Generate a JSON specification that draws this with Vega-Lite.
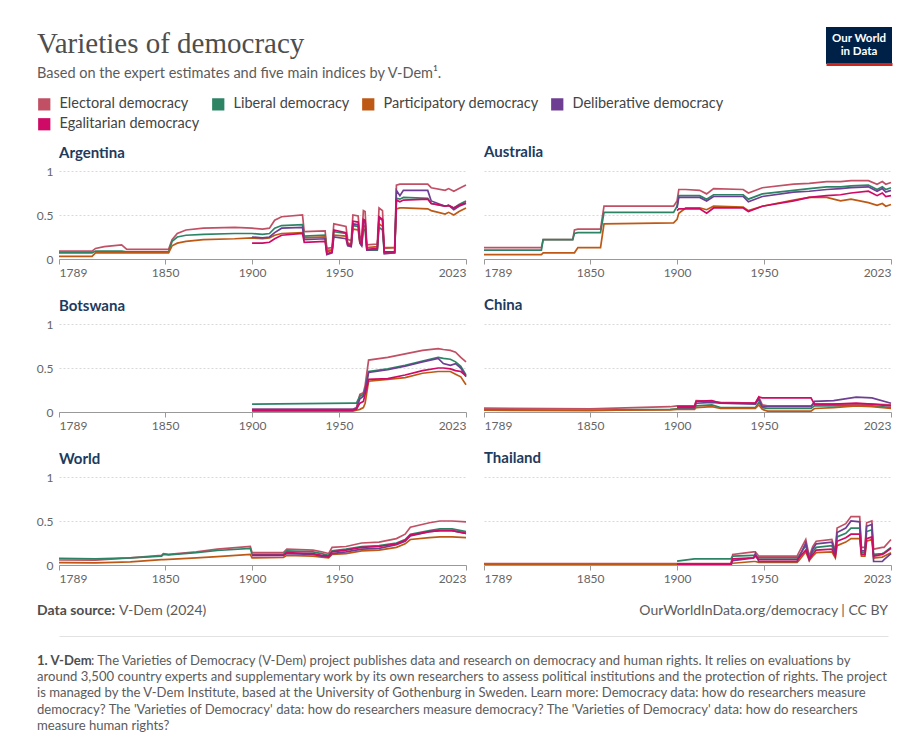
{
  "$schema": "https://vega.github.io/schema/vega-lite/v6.json",
  "padding": {"left": 36, "top": 27, "right": 10, "bottom": 0},
  "background": "white",
  "config": {
    "view": {"stroke": null},
    "font": "Lato",
    "title": {"anchor": "start", "frame": "group", "font": "Lato", "fontSize": 15, "fontWeight": 700, "color": "#1d3b5e", "offset": 4},
    "axis": {"labelFont": "Lato", "labelFontSize": 12, "labelColor": "#666666", "title": null},
    "legend": {"orient": "none", "legendX": -22, "legendY": -74, "direction": "horizontal", "columns": 4, "title": null, "symbolType": "square", "symbolSize": 150, "symbolStrokeWidth": 0, "labelFont": "Lato", "labelFontSize": 14.5, "labelColor": "#444444", "rowPadding": 5, "columnPadding": 11, "labelOffset": 8, "padding": 0},
    "text": {"font": "Lato"}
  },
  "resolve": {"legend": {"color": "independent"}},
  "spacing": 2,
  "vconcat": [
    {
      "spacing": 20,
      "hconcat": [
        {
          "width": 747, "height": 68,
          "data": {"values": []},
          "mark": "point",
          "title": {
            "text": "Varieties of democracy",
            "subtitle": "Based on the expert estimates and five main indices by V-Dem¹.",
            "font": "Liberation Serif", "fontSize": 29, "fontWeight": "normal", "color": "#4e4e4e",
            "subtitleFont": "Lato", "subtitleFontSize": 14.5, "subtitleColor": "#5b5b5b", "subtitlePadding": 8,
            "offset": -53, "dx": -22
          }
        },
        {
          "width": 66, "height": 37,
          "view": {"fill": "#002147", "stroke": null},
          "data": {"values": [{"t": "Our World"}, {"t": "in Data"}]},
          "mark": {"type": "text", "color": "white", "fontSize": 11.5, "fontWeight": 700, "baseline": "middle"},
          "encoding": {
            "x": {"datum": "logo", "type": "nominal", "scale": {"type": "point"}, "axis": {"labels": false, "ticks": false, "domainColor": "#ce261e", "domainWidth": 3, "grid": false, "title": null}},
            "y": {"field": "t", "type": "nominal", "sort": ["Our World", "in Data"], "scale": {"type": "point", "padding": 1}, "axis": null},
            "text": {"field": "t"}
          }
        }
      ]
    },
    {
      "columns": 2,
      "spacing": {"row": 20, "column": 10},
      "data": {"values": [
        {"c":"AR","yr":1789,"e":0.09,"l":0.07,"p":0.03},
        {"c":"AR","yr":1808,"e":0.09,"l":0.07,"p":0.03},
        {"c":"AR","yr":1810,"e":0.12,"l":0.09,"p":0.07},
        {"c":"AR","yr":1815,"e":0.14,"l":0.09,"p":0.07},
        {"c":"AR","yr":1825,"e":0.16,"l":0.09,"p":0.07},
        {"c":"AR","yr":1828,"e":0.11,"l":0.08,"p":0.07},
        {"c":"AR","yr":1852,"e":0.11,"l":0.08,"p":0.07},
        {"c":"AR","yr":1854,"e":0.22,"l":0.2,"p":0.15},
        {"c":"AR","yr":1857,"e":0.29,"l":0.25,"p":0.18},
        {"c":"AR","yr":1862,"e":0.33,"l":0.27,"p":0.2},
        {"c":"AR","yr":1872,"e":0.35,"l":0.28,"p":0.22},
        {"c":"AR","yr":1890,"e":0.36,"l":0.29,"p":0.23},
        {"c":"AR","yr":1900,"e":0.35,"l":0.29,"p":0.24,"d":0.25,"g":0.18},
        {"c":"AR","yr":1906,"e":0.34,"l":0.28,"p":0.23,"d":0.24,"g":0.18},
        {"c":"AR","yr":1910,"e":0.35,"l":0.29,"p":0.24,"d":0.25,"g":0.19},
        {"c":"AR","yr":1913,"e":0.44,"l":0.35,"p":0.27,"d":0.3,"g":0.23},
        {"c":"AR","yr":1917,"e":0.48,"l":0.38,"p":0.29,"d":0.35,"g":0.27},
        {"c":"AR","yr":1929,"e":0.5,"l":0.39,"p":0.3,"d":0.36,"g":0.29},
        {"c":"AR","yr":1930,"e":0.31,"l":0.26,"p":0.24,"d":0.22,"g":0.19},
        {"c":"AR","yr":1942,"e":0.32,"l":0.27,"p":0.25,"d":0.23,"g":0.2},
        {"c":"AR","yr":1943,"e":0.12,"l":0.08,"p":0.1,"d":0.05,"g":0.06},
        {"c":"AR","yr":1946,"e":0.13,"l":0.1,"p":0.1,"d":0.07,"g":0.08},
        {"c":"AR","yr":1947,"e":0.4,"l":0.31,"p":0.27,"d":0.25,"g":0.33},
        {"c":"AR","yr":1954,"e":0.37,"l":0.29,"p":0.26,"d":0.23,"g":0.3},
        {"c":"AR","yr":1955,"e":0.22,"l":0.17,"p":0.18,"d":0.15,"g":0.16},
        {"c":"AR","yr":1957,"e":0.21,"l":0.16,"p":0.17,"d":0.14,"g":0.15},
        {"c":"AR","yr":1958,"e":0.5,"l":0.38,"p":0.34,"d":0.4,"g":0.43},
        {"c":"AR","yr":1961,"e":0.49,"l":0.37,"p":0.33,"d":0.39,"g":0.42},
        {"c":"AR","yr":1962,"e":0.26,"l":0.2,"p":0.18,"d":0.18,"g":0.2},
        {"c":"AR","yr":1963,"e":0.22,"l":0.15,"p":0.16,"d":0.15,"g":0.17},
        {"c":"AR","yr":1964,"e":0.55,"l":0.33,"p":0.38,"d":0.43,"g":0.45},
        {"c":"AR","yr":1965,"e":0.54,"l":0.33,"p":0.37,"d":0.42,"g":0.44},
        {"c":"AR","yr":1966,"e":0.16,"l":0.1,"p":0.13,"d":0.1,"g":0.11},
        {"c":"AR","yr":1972,"e":0.17,"l":0.1,"p":0.14,"d":0.11,"g":0.12},
        {"c":"AR","yr":1973,"e":0.58,"l":0.36,"p":0.4,"d":0.47,"g":0.48},
        {"c":"AR","yr":1975,"e":0.55,"l":0.33,"p":0.37,"d":0.44,"g":0.45},
        {"c":"AR","yr":1976,"e":0.12,"l":0.07,"p":0.13,"d":0.06,"g":0.08},
        {"c":"AR","yr":1982,"e":0.13,"l":0.07,"p":0.13,"d":0.07,"g":0.08},
        {"c":"AR","yr":1983,"e":0.84,"l":0.69,"p":0.57,"d":0.78,"g":0.67},
        {"c":"AR","yr":1985,"e":0.85,"l":0.68,"p":0.58,"d":0.72,"g":0.65},
        {"c":"AR","yr":1987,"e":0.85,"l":0.7,"p":0.58,"d":0.78,"g":0.67},
        {"c":"AR","yr":2001,"e":0.85,"l":0.69,"p":0.57,"d":0.78,"g":0.68},
        {"c":"AR","yr":2003,"e":0.81,"l":0.63,"p":0.55,"d":0.66,"g":0.63},
        {"c":"AR","yr":2011,"e":0.78,"l":0.6,"p":0.51,"d":0.6,"g":0.6},
        {"c":"AR","yr":2013,"e":0.8,"l":0.61,"p":0.53,"d":0.61,"g":0.61},
        {"c":"AR","yr":2016,"e":0.77,"l":0.58,"p":0.5,"d":0.56,"g":0.58},
        {"c":"AR","yr":2019,"e":0.8,"l":0.62,"p":0.54,"d":0.6,"g":0.61},
        {"c":"AR","yr":2023,"e":0.84,"l":0.66,"p":0.58,"d":0.63,"g":0.64},

        {"c":"AU","yr":1789,"e":0.13,"l":0.1,"p":0.05},
        {"c":"AU","yr":1822,"e":0.13,"l":0.1,"p":0.05},
        {"c":"AU","yr":1823,"e":0.22,"l":0.22,"p":0.07},
        {"c":"AU","yr":1840,"e":0.22,"l":0.22,"p":0.07},
        {"c":"AU","yr":1841,"e":0.33,"l":0.29,"p":0.07},
        {"c":"AU","yr":1843,"e":0.34,"l":0.3,"p":0.13},
        {"c":"AU","yr":1856,"e":0.34,"l":0.3,"p":0.13},
        {"c":"AU","yr":1858,"e":0.6,"l":0.53,"p":0.4},
        {"c":"AU","yr":1898,"e":0.6,"l":0.53,"p":0.41},
        {"c":"AU","yr":1900,"e":0.66,"l":0.6,"p":0.45,"d":0.58,"g":0.55},
        {"c":"AU","yr":1901,"e":0.79,"l":0.72,"p":0.52,"d":0.7,"g":0.57},
        {"c":"AU","yr":1905,"e":0.79,"l":0.72,"p":0.58,"d":0.7,"g":0.57},
        {"c":"AU","yr":1913,"e":0.78,"l":0.72,"p":0.58,"d":0.7,"g":0.57},
        {"c":"AU","yr":1917,"e":0.74,"l":0.68,"p":0.56,"d":0.66,"g":0.52},
        {"c":"AU","yr":1921,"e":0.8,"l":0.73,"p":0.6,"d":0.71,"g":0.58},
        {"c":"AU","yr":1938,"e":0.79,"l":0.73,"p":0.59,"d":0.71,"g":0.58},
        {"c":"AU","yr":1941,"e":0.75,"l":0.68,"p":0.55,"d":0.65,"g":0.54},
        {"c":"AU","yr":1949,"e":0.81,"l":0.74,"p":0.6,"d":0.71,"g":0.6},
        {"c":"AU","yr":1967,"e":0.85,"l":0.78,"p":0.67,"d":0.76,"g":0.66},
        {"c":"AU","yr":1976,"e":0.86,"l":0.8,"p":0.7,"d":0.77,"g":0.7},
        {"c":"AU","yr":1986,"e":0.88,"l":0.82,"p":0.7,"d":0.79,"g":0.72},
        {"c":"AU","yr":1994,"e":0.88,"l":0.82,"p":0.66,"d":0.8,"g":0.73},
        {"c":"AU","yr":2000,"e":0.89,"l":0.83,"p":0.68,"d":0.81,"g":0.75},
        {"c":"AU","yr":2010,"e":0.89,"l":0.84,"p":0.64,"d":0.82,"g":0.77},
        {"c":"AU","yr":2015,"e":0.85,"l":0.79,"p":0.61,"d":0.77,"g":0.72},
        {"c":"AU","yr":2018,"e":0.88,"l":0.82,"p":0.63,"d":0.8,"g":0.75},
        {"c":"AU","yr":2020,"e":0.85,"l":0.79,"p":0.6,"d":0.76,"g":0.71},
        {"c":"AU","yr":2023,"e":0.87,"l":0.81,"p":0.62,"d":0.78,"g":0.72},

        {"c":"BW","yr":1900,"e":0.03,"l":0.09,"p":0.01,"d":0.03,"g":0.02},
        {"c":"BW","yr":1958,"e":0.03,"l":0.1,"p":0.01,"d":0.03,"g":0.02},
        {"c":"BW","yr":1960,"e":0.05,"l":0.1,"p":0.02,"d":0.04,"g":0.03},
        {"c":"BW","yr":1962,"e":0.2,"l":0.18,"p":0.03,"d":0.15,"g":0.1},
        {"c":"BW","yr":1964,"e":0.22,"l":0.2,"p":0.05,"d":0.18,"g":0.12},
        {"c":"BW","yr":1965,"e":0.3,"l":0.25,"p":0.1,"d":0.25,"g":0.2},
        {"c":"BW","yr":1967,"e":0.59,"l":0.46,"p":0.35,"d":0.45,"g":0.37},
        {"c":"BW","yr":1978,"e":0.62,"l":0.49,"p":0.37,"d":0.48,"g":0.38},
        {"c":"BW","yr":1988,"e":0.66,"l":0.53,"p":0.39,"d":0.52,"g":0.42},
        {"c":"BW","yr":1998,"e":0.7,"l":0.58,"p":0.44,"d":0.57,"g":0.47},
        {"c":"BW","yr":2007,"e":0.72,"l":0.62,"p":0.46,"d":0.61,"g":0.5},
        {"c":"BW","yr":2010,"e":0.71,"l":0.61,"p":0.46,"d":0.55,"g":0.5},
        {"c":"BW","yr":2014,"e":0.7,"l":0.6,"p":0.46,"d":0.53,"g":0.49},
        {"c":"BW","yr":2017,"e":0.68,"l":0.57,"p":0.43,"d":0.55,"g":0.47},
        {"c":"BW","yr":2020,"e":0.62,"l":0.52,"p":0.4,"d":0.5,"g":0.46},
        {"c":"BW","yr":2023,"e":0.57,"l":0.42,"p":0.31,"d":0.4,"g":0.41},

        {"c":"CN","yr":1789,"e":0.045,"l":0.025,"p":0.02},
        {"c":"CN","yr":1850,"e":0.035,"l":0.02,"p":0.015},
        {"c":"CN","yr":1865,"e":0.045,"l":0.025,"p":0.02},
        {"c":"CN","yr":1896,"e":0.06,"l":0.03,"p":0.025},
        {"c":"CN","yr":1900,"e":0.07,"l":0.035,"p":0.03,"d":0.05,"g":0.06},
        {"c":"CN","yr":1910,"e":0.07,"l":0.04,"p":0.03,"d":0.05,"g":0.06},
        {"c":"CN","yr":1911,"e":0.13,"l":0.07,"p":0.05,"d":0.1,"g":0.12},
        {"c":"CN","yr":1920,"e":0.12,"l":0.08,"p":0.06,"d":0.11,"g":0.13},
        {"c":"CN","yr":1925,"e":0.11,"l":0.05,"p":0.04,"d":0.1,"g":0.1},
        {"c":"CN","yr":1945,"e":0.1,"l":0.05,"p":0.04,"d":0.09,"g":0.1},
        {"c":"CN","yr":1947,"e":0.17,"l":0.11,"p":0.08,"d":0.15,"g":0.17},
        {"c":"CN","yr":1949,"e":0.08,"l":0.05,"p":0.03,"d":0.06,"g":0.16},
        {"c":"CN","yr":1952,"e":0.07,"l":0.04,"p":0.01,"d":0.06,"g":0.16},
        {"c":"CN","yr":1977,"e":0.07,"l":0.04,"p":0.01,"d":0.06,"g":0.16},
        {"c":"CN","yr":1979,"e":0.09,"l":0.07,"p":0.04,"d":0.12,"g":0.09},
        {"c":"CN","yr":1990,"e":0.09,"l":0.07,"p":0.05,"d":0.13,"g":0.09},
        {"c":"CN","yr":2003,"e":0.09,"l":0.07,"p":0.07,"d":0.17,"g":0.1},
        {"c":"CN","yr":2012,"e":0.09,"l":0.07,"p":0.06,"d":0.16,"g":0.09},
        {"c":"CN","yr":2023,"e":0.08,"l":0.05,"p":0.04,"d":0.1,"g":0.07},

        {"c":"WD","yr":1789,"e":0.057,"l":0.075,"p":0.027},
        {"c":"WD","yr":1810,"e":0.055,"l":0.07,"p":0.025},
        {"c":"WD","yr":1830,"e":0.08,"l":0.08,"p":0.035},
        {"c":"WD","yr":1848,"e":0.11,"l":0.1,"p":0.06},
        {"c":"WD","yr":1849,"e":0.13,"l":0.12,"p":0.06},
        {"c":"WD","yr":1852,"e":0.12,"l":0.115,"p":0.065},
        {"c":"WD","yr":1868,"e":0.15,"l":0.14,"p":0.08},
        {"c":"WD","yr":1880,"e":0.18,"l":0.165,"p":0.095},
        {"c":"WD","yr":1899,"e":0.21,"l":0.19,"p":0.12},
        {"c":"WD","yr":1900,"e":0.14,"l":0.12,"p":0.08,"d":0.11,"g":0.11},
        {"c":"WD","yr":1918,"e":0.14,"l":0.12,"p":0.085,"d":0.11,"g":0.11},
        {"c":"WD","yr":1920,"e":0.18,"l":0.16,"p":0.11,"d":0.13,"g":0.14},
        {"c":"WD","yr":1935,"e":0.17,"l":0.15,"p":0.1,"d":0.12,"g":0.13},
        {"c":"WD","yr":1940,"e":0.15,"l":0.13,"p":0.09,"d":0.1,"g":0.11},
        {"c":"WD","yr":1944,"e":0.13,"l":0.11,"p":0.08,"d":0.09,"g":0.1},
        {"c":"WD","yr":1946,"e":0.2,"l":0.16,"p":0.12,"d":0.13,"g":0.15},
        {"c":"WD","yr":1954,"e":0.21,"l":0.18,"p":0.13,"d":0.15,"g":0.17},
        {"c":"WD","yr":1963,"e":0.25,"l":0.21,"p":0.16,"d":0.18,"g":0.2},
        {"c":"WD","yr":1973,"e":0.26,"l":0.22,"p":0.17,"d":0.19,"g":0.21},
        {"c":"WD","yr":1983,"e":0.3,"l":0.25,"p":0.2,"d":0.23,"g":0.24},
        {"c":"WD","yr":1988,"e":0.35,"l":0.29,"p":0.24,"d":0.27,"g":0.28},
        {"c":"WD","yr":1991,"e":0.43,"l":0.35,"p":0.29,"d":0.33,"g":0.34},
        {"c":"WD","yr":2002,"e":0.48,"l":0.39,"p":0.31,"d":0.38,"g":0.38},
        {"c":"WD","yr":2008,"e":0.5,"l":0.41,"p":0.32,"d":0.39,"g":0.39},
        {"c":"WD","yr":2015,"e":0.5,"l":0.41,"p":0.32,"d":0.39,"g":0.39},
        {"c":"WD","yr":2023,"e":0.49,"l":0.38,"p":0.31,"d":0.36,"g":0.36},

        {"c":"TH","yr":1789,"e":0.015,"p":0.01},
        {"c":"TH","yr":1899,"e":0.015,"p":0.01},
        {"c":"TH","yr":1900,"e":0.015,"l":0.045,"p":0.01,"d":0.01,"g":0.01},
        {"c":"TH","yr":1910,"e":0.015,"l":0.07,"p":0.01,"d":0.01,"g":0.01},
        {"c":"TH","yr":1931,"e":0.015,"l":0.07,"p":0.01,"d":0.01,"g":0.01},
        {"c":"TH","yr":1932,"e":0.12,"l":0.1,"p":0.02,"d":0.05,"g":0.07},
        {"c":"TH","yr":1944,"e":0.15,"l":0.11,"p":0.04,"d":0.08,"g":0.08},
        {"c":"TH","yr":1945,"e":0.15,"l":0.11,"p":0.04,"d":0.13,"g":0.1},
        {"c":"TH","yr":1947,"e":0.1,"l":0.08,"p":0.03,"d":0.04,"g":0.06},
        {"c":"TH","yr":1969,"e":0.1,"l":0.08,"p":0.03,"d":0.04,"g":0.06},
        {"c":"TH","yr":1970,"e":0.14,"l":0.1,"p":0.05,"d":0.08,"g":0.08},
        {"c":"TH","yr":1974,"e":0.29,"l":0.22,"p":0.15,"d":0.25,"g":0.17},
        {"c":"TH","yr":1976,"e":0.1,"l":0.08,"p":0.05,"d":0.06,"g":0.07},
        {"c":"TH","yr":1978,"e":0.21,"l":0.15,"p":0.1,"d":0.18,"g":0.12},
        {"c":"TH","yr":1980,"e":0.27,"l":0.2,"p":0.14,"d":0.24,"g":0.17},
        {"c":"TH","yr":1989,"e":0.29,"l":0.22,"p":0.15,"d":0.26,"g":0.18},
        {"c":"TH","yr":1991,"e":0.16,"l":0.12,"p":0.08,"d":0.14,"g":0.1},
        {"c":"TH","yr":1992,"e":0.42,"l":0.32,"p":0.22,"d":0.37,"g":0.27},
        {"c":"TH","yr":1997,"e":0.47,"l":0.36,"p":0.26,"d":0.42,"g":0.31},
        {"c":"TH","yr":2000,"e":0.55,"l":0.42,"p":0.3,"d":0.5,"g":0.35},
        {"c":"TH","yr":2005,"e":0.55,"l":0.42,"p":0.3,"d":0.49,"g":0.35},
        {"c":"TH","yr":2006,"e":0.2,"l":0.14,"p":0.1,"d":0.16,"g":0.12},
        {"c":"TH","yr":2008,"e":0.2,"l":0.14,"p":0.1,"d":0.16,"g":0.12},
        {"c":"TH","yr":2009,"e":0.48,"l":0.38,"p":0.27,"d":0.44,"g":0.3},
        {"c":"TH","yr":2012,"e":0.5,"l":0.4,"p":0.29,"d":0.46,"g":0.32},
        {"c":"TH","yr":2013,"e":0.18,"l":0.12,"p":0.08,"d":0.04,"g":0.1},
        {"c":"TH","yr":2018,"e":0.2,"l":0.13,"p":0.09,"d":0.04,"g":0.12},
        {"c":"TH","yr":2019,"e":0.2,"l":0.14,"p":0.1,"d":0.06,"g":0.13},
        {"c":"TH","yr":2023,"e":0.29,"l":0.2,"p":0.14,"d":0.13,"g":0.19}
      ]},
      "transform": [
        {"fold": ["e", "l", "p", "d", "g"], "as": ["k", "v"]},
        {"filter": "isValid(datum.v)"}
      ],
      "concat": [
        {
          "title": "Argentina", "width": 407, "height": 88,
          "transform": [{"filter": "datum.c === 'AR'"}],
          "mark": {"type": "line", "strokeWidth": 1.7},
          "encoding": {
            "x": {"field": "yr", "type": "quantitative", "scale": {"domain": [1789, 2023], "nice": false, "zero": false}, "axis": {"values": [1789, 1850, 1900, 1950, 2023], "format": "d", "labelFlush": true, "grid": false, "tickSize": 5, "tickColor": "#999999", "domainColor": "#999999", "labelPadding": 3}},
            "y": {"field": "v", "type": "quantitative", "scale": {"domain": [0, 1], "nice": false}, "axis": {"values": [0, 0.5, 1], "format": "~g", "domain": false, "ticks": false, "labelPadding": 6, "gridDash": [2, 2], "gridColor": "#d9d9d9"}},
            "color": {"field": "k", "type": "nominal", "scale": {"domain": ["e", "l", "p", "d", "g"], "range": ["#C15065", "#2C8465", "#BE5915", "#6D3E91", "#CF0A66"]}, "legend": {"labelExpr": "{'e':'Electoral democracy','l':'Liberal democracy','p':'Participatory democracy','d':'Deliberative democracy','g':'Egalitarian democracy'}[datum.label]", "encode": {"symbols": {"update": {"fill": {"scale": "color", "field": "value"}, "fillOpacity": {"value": 1}}}}}}
          }
        },
        {
          "title": {"text": "Australia", "offset": 11}, "width": 407, "height": 88,
          "transform": [{"filter": "datum.c === 'AU'"}],
          "mark": {"type": "line", "strokeWidth": 1.7},
          "encoding": {
            "x": {"field": "yr", "type": "quantitative", "scale": {"domain": [1789, 2023], "nice": false, "zero": false}, "axis": {"values": [1789, 1850, 1900, 1950, 2023], "format": "d", "labelFlush": true, "grid": false, "tickSize": 5, "tickColor": "#999999", "domainColor": "#999999", "labelPadding": 3}},
            "y": {"field": "v", "type": "quantitative", "scale": {"domain": [0, 1], "nice": false}, "axis": {"values": [0, 0.5, 1], "labels": false, "domain": false, "ticks": false, "gridDash": [2, 2], "gridColor": "#d9d9d9"}},
            "color": {"field": "k", "type": "nominal", "scale": {"domain": ["e", "l", "p", "d", "g"], "range": ["#C15065", "#2C8465", "#BE5915", "#6D3E91", "#CF0A66"]}, "legend": {"labelExpr": "{'e':'Electoral democracy','l':'Liberal democracy','p':'Participatory democracy','d':'Deliberative democracy','g':'Egalitarian democracy'}[datum.label]", "encode": {"symbols": {"update": {"fill": {"scale": "color", "field": "value"}, "fillOpacity": {"value": 1}}}}}}
          }
        },
        {
          "title": "Botswana", "width": 407, "height": 88,
          "transform": [{"filter": "datum.c === 'BW'"}],
          "mark": {"type": "line", "strokeWidth": 1.7},
          "encoding": {
            "x": {"field": "yr", "type": "quantitative", "scale": {"domain": [1789, 2023], "nice": false, "zero": false}, "axis": {"values": [1789, 1850, 1900, 1950, 2023], "format": "d", "labelFlush": true, "grid": false, "tickSize": 5, "tickColor": "#999999", "domainColor": "#999999", "labelPadding": 3}},
            "y": {"field": "v", "type": "quantitative", "scale": {"domain": [0, 1], "nice": false}, "axis": {"values": [0, 0.5, 1], "format": "~g", "domain": false, "ticks": false, "labelPadding": 6, "gridDash": [2, 2], "gridColor": "#d9d9d9"}},
            "color": {"field": "k", "type": "nominal", "scale": {"domain": ["e", "l", "p", "d", "g"], "range": ["#C15065", "#2C8465", "#BE5915", "#6D3E91", "#CF0A66"]}, "legend": {"labelExpr": "{'e':'Electoral democracy','l':'Liberal democracy','p':'Participatory democracy','d':'Deliberative democracy','g':'Egalitarian democracy'}[datum.label]", "encode": {"symbols": {"update": {"fill": {"scale": "color", "field": "value"}, "fillOpacity": {"value": 1}}}}}}
          }
        },
        {
          "title": {"text": "China", "offset": 11}, "width": 407, "height": 88,
          "transform": [{"filter": "datum.c === 'CN'"}],
          "mark": {"type": "line", "strokeWidth": 1.7},
          "encoding": {
            "x": {"field": "yr", "type": "quantitative", "scale": {"domain": [1789, 2023], "nice": false, "zero": false}, "axis": {"values": [1789, 1850, 1900, 1950, 2023], "format": "d", "labelFlush": true, "grid": false, "tickSize": 5, "tickColor": "#999999", "domainColor": "#999999", "labelPadding": 3}},
            "y": {"field": "v", "type": "quantitative", "scale": {"domain": [0, 1], "nice": false}, "axis": {"values": [0, 0.5, 1], "labels": false, "domain": false, "ticks": false, "gridDash": [2, 2], "gridColor": "#d9d9d9"}},
            "color": {"field": "k", "type": "nominal", "scale": {"domain": ["e", "l", "p", "d", "g"], "range": ["#C15065", "#2C8465", "#BE5915", "#6D3E91", "#CF0A66"]}, "legend": {"labelExpr": "{'e':'Electoral democracy','l':'Liberal democracy','p':'Participatory democracy','d':'Deliberative democracy','g':'Egalitarian democracy'}[datum.label]", "encode": {"symbols": {"update": {"fill": {"scale": "color", "field": "value"}, "fillOpacity": {"value": 1}}}}}}
          }
        },
        {
          "title": "World", "width": 407, "height": 88,
          "transform": [{"filter": "datum.c === 'WD'"}],
          "mark": {"type": "line", "strokeWidth": 1.7},
          "encoding": {
            "x": {"field": "yr", "type": "quantitative", "scale": {"domain": [1789, 2023], "nice": false, "zero": false}, "axis": {"values": [1789, 1850, 1900, 1950, 2023], "format": "d", "labelFlush": true, "grid": false, "tickSize": 5, "tickColor": "#999999", "domainColor": "#999999", "labelPadding": 3}},
            "y": {"field": "v", "type": "quantitative", "scale": {"domain": [0, 1], "nice": false}, "axis": {"values": [0, 0.5, 1], "format": "~g", "domain": false, "ticks": false, "labelPadding": 6, "gridDash": [2, 2], "gridColor": "#d9d9d9"}},
            "color": {"field": "k", "type": "nominal", "scale": {"domain": ["e", "l", "p", "d", "g"], "range": ["#C15065", "#2C8465", "#BE5915", "#6D3E91", "#CF0A66"]}, "legend": {"labelExpr": "{'e':'Electoral democracy','l':'Liberal democracy','p':'Participatory democracy','d':'Deliberative democracy','g':'Egalitarian democracy'}[datum.label]", "encode": {"symbols": {"update": {"fill": {"scale": "color", "field": "value"}, "fillOpacity": {"value": 1}}}}}}
          }
        },
        {
          "title": {"text": "Thailand", "offset": 11}, "width": 407, "height": 88,
          "transform": [{"filter": "datum.c === 'TH'"}],
          "mark": {"type": "line", "strokeWidth": 1.7},
          "encoding": {
            "x": {"field": "yr", "type": "quantitative", "scale": {"domain": [1789, 2023], "nice": false, "zero": false}, "axis": {"values": [1789, 1850, 1900, 1950, 2023], "format": "d", "labelFlush": true, "grid": false, "tickSize": 5, "tickColor": "#999999", "domainColor": "#999999", "labelPadding": 3}},
            "y": {"field": "v", "type": "quantitative", "scale": {"domain": [0, 1], "nice": false}, "axis": {"values": [0, 0.5, 1], "labels": false, "domain": false, "ticks": false, "gridDash": [2, 2], "gridColor": "#d9d9d9"}},
            "color": {"field": "k", "type": "nominal", "scale": {"domain": ["e", "l", "p", "d", "g"], "range": ["#C15065", "#2C8465", "#BE5915", "#6D3E91", "#CF0A66"]}, "legend": {"labelExpr": "{'e':'Electoral democracy','l':'Liberal democracy','p':'Participatory democracy','d':'Deliberative democracy','g':'Egalitarian democracy'}[datum.label]", "encode": {"symbols": {"update": {"fill": {"scale": "color", "field": "value"}, "fillOpacity": {"value": 1}}}}}}
          }
        }
      ]
    },
    {
      "width": 829, "height": 50,
      "data": {"values": [
        {"side": "left", "part": "bold", "text": "Data source:"},
        {"side": "left", "part": "plain", "text": "V-Dem (2024)"},
        {"side": "right", "part": "plain", "text": "OurWorldInData.org/democracy | CC BY"}
      ]},
      "encoding": {
        "x": {"field": "side", "type": "nominal", "scale": {"type": "point", "domain": ["left", "right"], "padding": 0}, "axis": {"labels": false, "ticks": false, "domainColor": "#e2e2e2", "grid": false, "title": null}},
        "text": {"field": "text"}
      },
      "layer": [
        {"transform": [{"filter": "datum.side === 'left' && datum.part === 'bold'"}], "mark": {"type": "text", "align": "left", "baseline": "middle", "fontSize": 14, "fontWeight": 700, "color": "#4e4e4e", "dx": -22}},
        {"transform": [{"filter": "datum.side === 'left' && datum.part === 'plain'"}], "mark": {"type": "text", "align": "left", "baseline": "middle", "fontSize": 14, "color": "#5b5b5b", "dx": 60}},
        {"transform": [{"filter": "datum.side === 'right'"}], "mark": {"type": "text", "align": "right", "baseline": "middle", "fontSize": 14, "color": "#5b5b5b"}}
      ]
    },
    {
      "width": 829, "height": 111,
      "data": {"values": [
        {"n": 1, "part": "bold", "text": "1. V-Dem"},
        {"n": 1, "part": "plain", "text": ": The Varieties of Democracy (V-Dem) project publishes data and research on democracy and human rights. It relies on evaluations by"},
        {"n": 2, "part": "full", "text": "around 3,500 country experts and supplementary work by its own researchers to assess political institutions and the protection of rights. The project"},
        {"n": 3, "part": "full", "text": "is managed by the V-Dem Institute, based at the University of Gothenburg in Sweden. Learn more: Democracy data: how do researchers measure"},
        {"n": 4, "part": "full", "text": "democracy? The 'Varieties of Democracy' data: how do researchers measure democracy? The 'Varieties of Democracy' data: how do researchers"},
        {"n": 5, "part": "full", "text": "measure human rights?"}
      ]},
      "encoding": {
        "y": {"field": "n", "type": "quantitative", "scale": {"domain": [-0.415, 6.416], "nice": false, "zero": false, "reverse": true}, "axis": null},
        "x": {"datum": "left", "type": "nominal", "scale": {"type": "point", "domain": ["left", "right"], "padding": 0}, "axis": null},
        "text": {"field": "text"}
      },
      "layer": [
        {"transform": [{"filter": "datum.part === 'bold'"}], "mark": {"type": "text", "align": "left", "baseline": "middle", "fontSize": 13.1, "fontWeight": 700, "color": "#4e4e4e", "dx": -22}},
        {"transform": [{"filter": "datum.part === 'plain'"}], "mark": {"type": "text", "align": "left", "baseline": "middle", "fontSize": 13.1, "color": "#5b5b5b", "dx": 32}},
        {"transform": [{"filter": "datum.part === 'full'"}], "mark": {"type": "text", "align": "left", "baseline": "middle", "fontSize": 13.1, "color": "#5b5b5b", "dx": -22}}
      ]
    }
  ]
}
